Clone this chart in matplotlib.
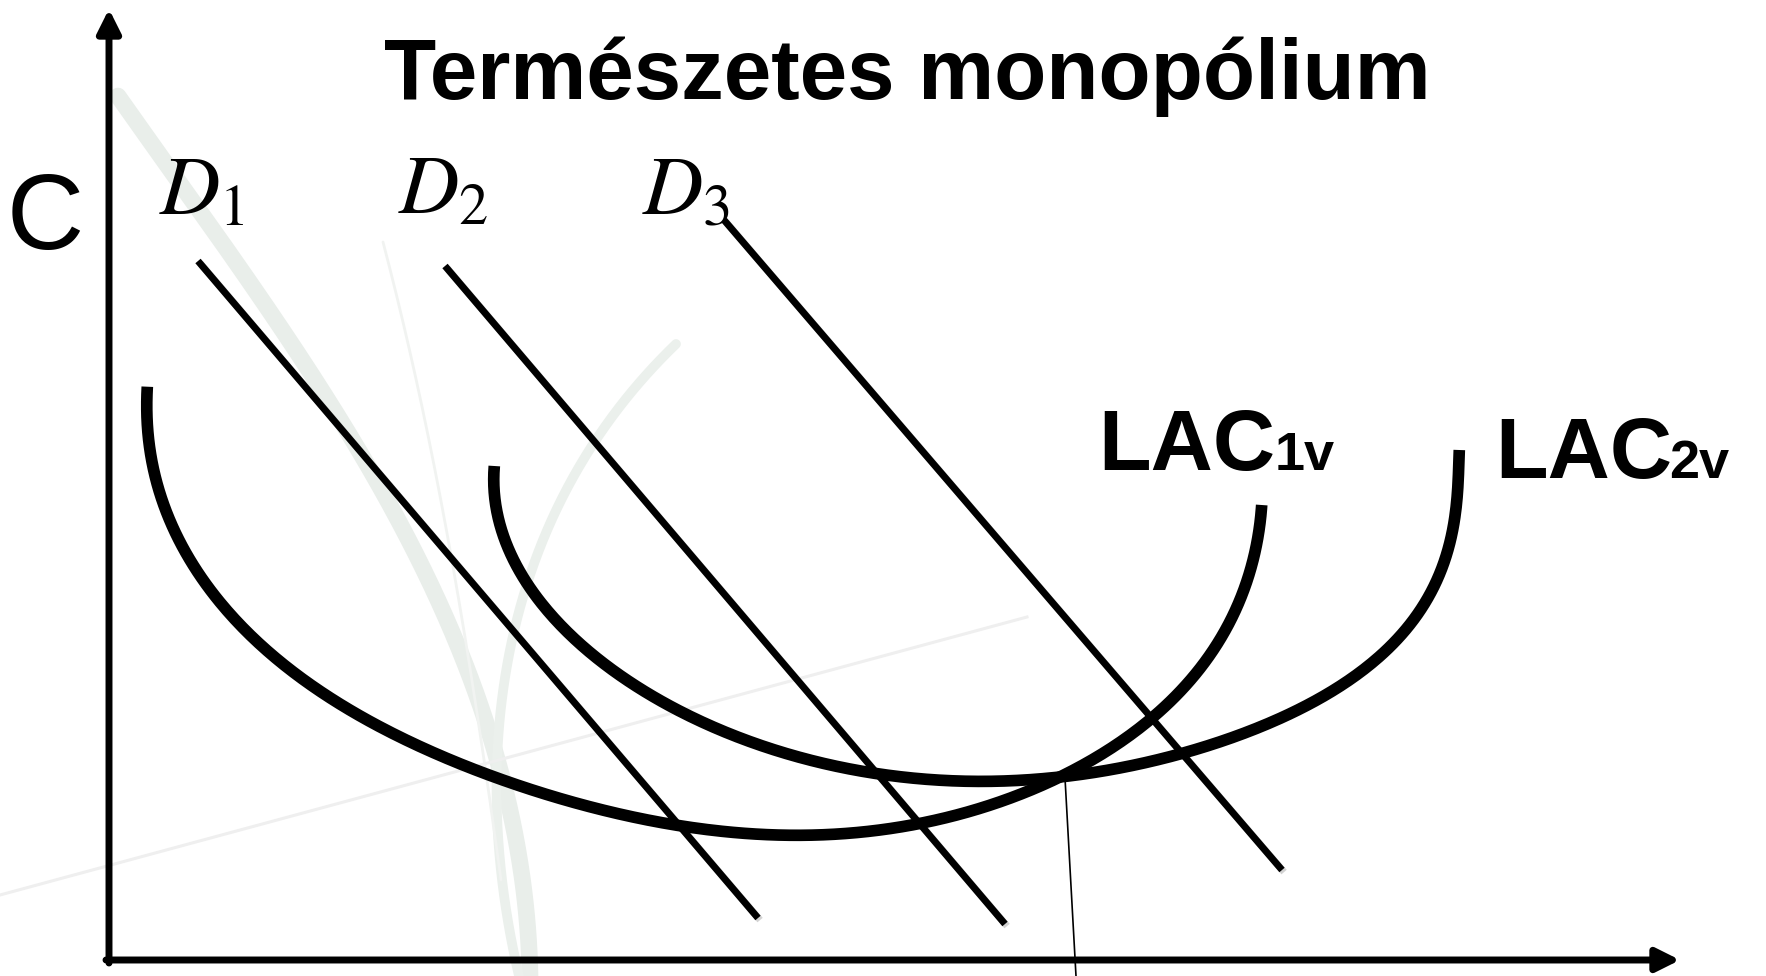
import numpy as np
import matplotlib
matplotlib.use("Agg")
import matplotlib.pyplot as plt
import matplotlib.patheffects as pe

plt.rcParams['font.family'] = ['Liberation Sans', 'DejaVu Sans']
plt.rcParams['mathtext.fontset'] = 'stix'

# chart coordinates: origin at the axis corner, x = quantity, y = cost (pixel-like units)
x_axis_end = 1571
y_axis_end = 951

# demand lines (start, end)
d_labels = ['$D_1$', '$D_2$', '$D_3$']
d_start_x = [89, 336, 615]
d_start_y = [699, 694, 740]
d_end_x = [649, 896, 1173]
d_end_y = [42, 36, 90]
d_label_x = [50, 289, 533]
d_label_y = [746, 746, 746]

# long run average cost curves
lac1_x = [38.3, 39.3, 46, 59.3, 77.7, 104.3, 141, 184.3, 234.3, 291, 357.7, 424.3,
          484.3, 571, 637.7, 701, 771, 821, 891, 951, 1001, 1044.3, 1084.3, 1117.7,
          1139.3, 1149.3, 1152.7]
lac1_y = [573.3, 533.3, 483.3, 440, 406.7, 366.7, 326.7, 286.7, 253.3, 223.3, 193.3, 170,
          153.3, 133.3, 126.7, 124, 130, 140, 158, 183.3, 210, 243.3, 283.3, 333.3,
          383.3, 423.3, 455]
lac2_x = [385.3, 386, 391, 404.3, 427.7, 461, 504.3, 554.3, 611, 671, 737.7, 804.3,
          891, 957.7, 1024.3, 1074.3, 1141, 1207.7, 1264.3, 1304.3, 1331, 1346, 1350.3]
lac2_y = [494, 470, 436.7, 396.7, 363.3, 326.7, 290, 256.7, 230, 208.3, 191.7, 182.7,
          178.3, 183.3, 195, 206.7, 230, 260, 296.7, 340, 390, 440, 510]

# optimum quantity marker (thin drop line)
q_line_x = [956, 967]
q_line_y = [182, -16]

# faint watermark strokes in the background
wm1_x = [9, 116, 198, 258, 308, 358, 384, 401, 411, 421]
wm1_y = [864, 701, 600, 500, 400, 300, 217, 133, 80, -16]
wm2_x = [567, 511, 450, 408, 391, 401, 410]
wm2_y = [616, 543, 450, 367, 267, 80, -16]
wm3_x = [274, 324, 366, 392]
wm3_y = [718, 500, 260, 80]
wm4_x = [-109, 918]
wm4_y = [65, 343]


def smooth_curve(xs, ys, deg):
    # smooth the hand-read points: least squares fit along the chord length
    x = np.asarray(xs, float)
    y = np.asarray(ys, float)
    t = np.concatenate([[0], np.cumsum(np.hypot(np.diff(x), np.diff(y)))])
    t = t / t[-1]
    w = np.ones_like(t)
    w[0] = w[-1] = 20  # keep the ends where they are
    px = np.polyfit(t, x, deg, w=w)
    py = np.polyfit(t, y, deg, w=w)
    tt = np.linspace(0, 1, 400)
    return np.polyval(px, tt), np.polyval(py, tt)


fig = plt.figure(figsize=(17.66, 9.76), dpi=100)
ax = fig.add_axes([0, 0, 1, 1])
ax.set_xlim(-109, 1657)
ax.set_ylim(-16, 960)
ax.axis('off')

# watermark
for wx, wy, lw, col in [(wm1_x, wm1_y, 12, '#e9eeea'), (wm2_x, wm2_y, 7, '#ebf0ec'),
                        (wm3_x, wm3_y, 2, '#f1f3f1')]:
    sx, sy = smooth_curve(wx, wy, 3)
    ax.plot(sx, sy, lw=lw, color=col, solid_capstyle='round', zorder=0)
ax.plot(wm4_x, wm4_y, color='#efefef', lw=2.2, zorder=0)

# axes with arrows
arrow_style = '-|>,head_length=1.4,head_width=0.7'
ax.annotate('', xy=(0, y_axis_end), xytext=(0, -3),
            arrowprops=dict(arrowstyle=arrow_style, lw=5, color='black',
                            shrinkA=0, shrinkB=0, mutation_scale=10))
ax.annotate('', xy=(x_axis_end, 0), xytext=(-3, 0),
            arrowprops=dict(arrowstyle=arrow_style, lw=5, color='black',
                            shrinkA=0, shrinkB=0, mutation_scale=10))

# demand lines
shadow = [pe.SimpleLineShadow(offset=(1.5, -1.5), shadow_color='gray', alpha=0.35), pe.Normal()]
for i in range(3):
    ax.plot([d_start_x[i], d_end_x[i]], [d_start_y[i], d_end_y[i]], color='black',
            lw=5, solid_capstyle='butt', path_effects=shadow, zorder=3)
    ax.text(d_label_x[i], d_label_y[i], d_labels[i], fontsize=60, ha='left',
            va='baseline', zorder=4)

# LAC curves
for cx, cy in [(lac1_x, lac1_y), (lac2_x, lac2_y)]:
    sx, sy = smooth_curve(cx, cy, 9)
    ax.plot(sx, sy, lw=8.4, color='black', solid_capstyle='butt', zorder=3)

ax.plot(q_line_x, q_line_y, color='black', lw=1.2, zorder=2)

# labels
ax.text(798, 861, 'Természetes monopólium', fontsize=61.5, fontweight='bold',
        ha='center', va='baseline')
ax.text(-64, 739, 'C', fontsize=77, ha='center', va='center')
ax.text(989, 490, 'LAC', fontsize=62, fontweight='bold', ha='left', va='baseline')
ax.text(1166, 490, '1v', fontsize=39, fontweight='bold', ha='left', va='baseline')
ax.text(1386, 482, 'LAC', fontsize=62, fontweight='bold', ha='left', va='baseline')
ax.text(1560, 482, '2v', fontsize=39, fontweight='bold', ha='left', va='baseline')

fig.savefig('out.png', dpi=100)
